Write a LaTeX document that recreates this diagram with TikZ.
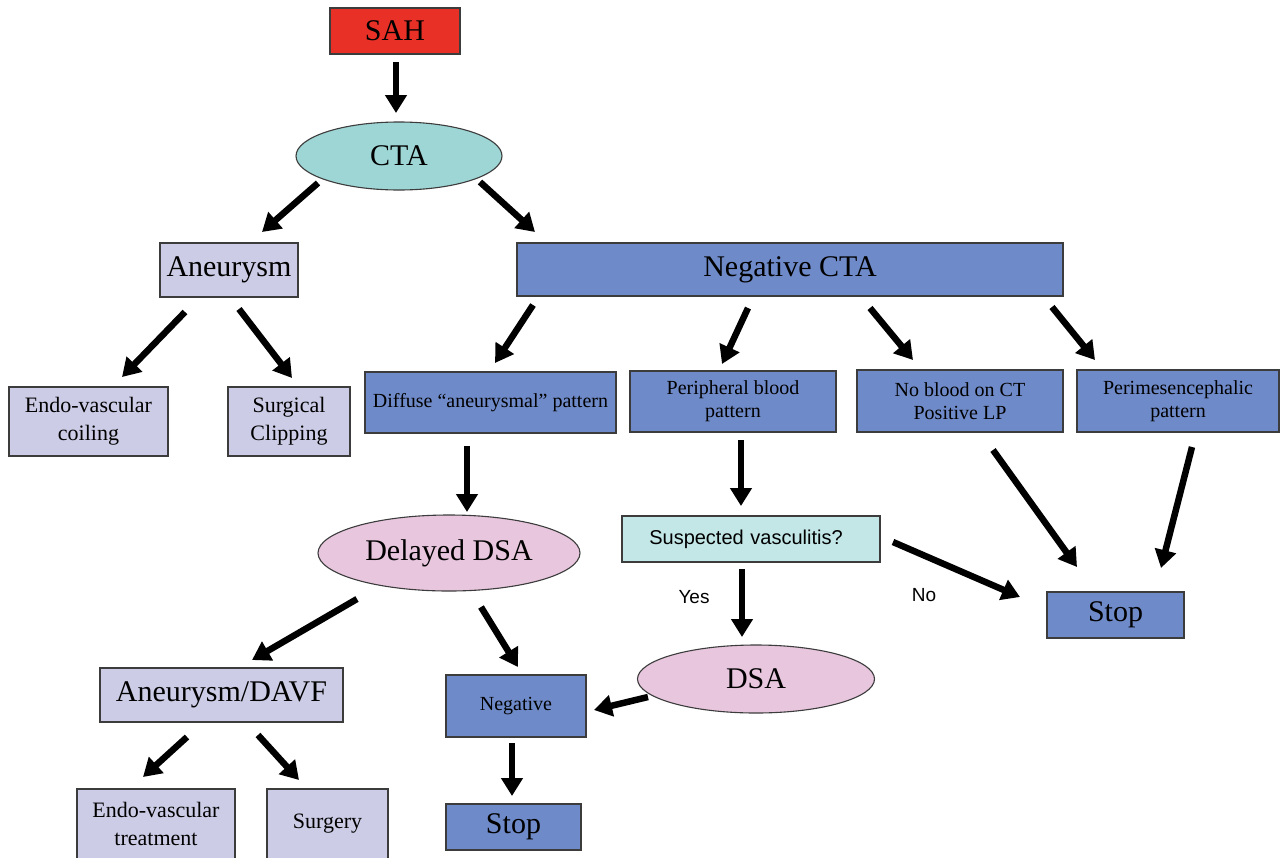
\documentclass[tikz,border=0pt]{standalone}
\usepackage{fontspec}
\setmainfont{Liberation Serif}
\newfontfamily\arialf{Liberation Sans}
\usetikzlibrary{arrows.meta,shapes.geometric,calc}
\definecolor{sahred}{RGB}{232,48,39}
\definecolor{ctacyan}{RGB}{158,213,213}
\definecolor{lav}{RGB}{204,204,230}
\definecolor{blu}{RGB}{111,138,200}
\definecolor{lcyan}{RGB}{195,230,230}
\definecolor{pnk}{RGB}{232,198,222}
\definecolor{edgec}{RGB}{60,60,60}
\begin{document}
\begin{tikzpicture}[x=1pt,y=-1pt,
  box/.style={draw=edgec,line width=1.1pt,inner sep=0pt,align=center},
  oval/.style={ellipse,draw=edgec,line width=1.1pt,inner sep=0pt,align=center},
  arr/.style={line width=6.5pt,-{Triangle[length=18pt,width=21pt]}},
  fbig/.style={font=\fontsize{30}{32}\selectfont},
  fmid/.style={font=\fontsize{22}{28}\selectfont},
  fsmall/.style={font=\fontsize{20}{23}\selectfont},
  fsans/.style={font=\arialf\fontsize{20}{23}\selectfont},
  flab/.style={font=\arialf\fontsize{19}{22}\selectfont}]
\useasboundingbox[fill=white] (0,0) rectangle (1287,857);

% nodes
\node[box,fbig,fill=sahred,minimum width=130pt,minimum height=46pt] (sah) at (395,31) {SAH};
\node[oval,fbig,fill=ctacyan,minimum width=206pt,minimum height=68pt] (cta) at (399,156) {CTA};
\node[box,fbig,fill=lav,minimum width=138pt,minimum height=54pt] (aneu) at (229,270) {Aneurysm};
\node[box,fbig,fill=blu,minimum width=546pt,minimum height=53pt] (negcta) at (790,269.5) {Negative CTA};
\node[box,fmid,fill=lav,minimum width=159pt,minimum height=69pt] (endo1) at (88.5,421.5) {Endo-vascular\\coiling};
\node[box,fmid,fill=lav,minimum width=122pt,minimum height=69pt] (surg1) at (289,421.5) {Surgical\\Clipping};
\node[box,fsmall,fill=blu,minimum width=251pt,minimum height=61pt] (diffuse) at (490.5,402.5) {Diffuse “aneurysmal” pattern};
\node[box,fsmall,fill=blu,minimum width=206pt,minimum height=61pt] (periph) at (733,401.5) {Peripheral blood\\pattern};
\node[box,fsmall,fill=blu,minimum width=206pt,minimum height=62pt] (noblood) at (960,401) {No blood on CT\\Positive LP};
\node[box,fsmall,fill=blu,minimum width=202pt,minimum height=62pt] (perimes) at (1178,401) {Perimesencephalic\\pattern};
\node[box,fsans,fill=lcyan,minimum width=258pt,minimum height=46pt,text width=258pt,align=center] (susp) at (751,539) {\hspace*{-10pt}Suspected vasculitis?};
\node[box,fbig,fill=blu,minimum width=137pt,minimum height=46pt] (stopR) at (1115.5,615) {Stop};
\node[oval,fbig,fill=pnk,minimum width=262pt,minimum height=76pt] (ddsa) at (449,553) {Delayed DSA};
\node[oval,fbig,fill=pnk,minimum width=237pt,minimum height=68pt] (dsa) at (756,679) {DSA};
\node[box,fbig,fill=lav,minimum width=243pt,minimum height=54pt] (anedavf) at (221.5,695) {Aneurysm/DAVF};
\node[box,fsmall,fill=blu,minimum width=140pt,minimum height=62pt] (neg) at (516,706) {Negative};
\node[box,fmid,fill=lav,minimum width=158pt,minimum height=70pt] (endo2) at (156,824) {Endo-vascular\\treatment};
\node[box,fmid,fill=lav,minimum width=121pt,minimum height=70pt] (surgery) at (327.5,824) {Surgery};
\node[box,fbig,fill=blu,minimum width=135pt,minimum height=46pt] (stopB) at (513.5,827) {Stop};

% connectors
\draw[arr] ($(sah)+(1,31)$) -- ($(cta)+(-3,-43)$);
\draw[arr] ($(cta)+(-81,27)$) -- ($(aneu)+(33,-38)$);
\draw[arr] ($(cta)+(81,26)$) -- ($(negcta)+(-255,-37.5)$);
\draw[arr] ($(aneu)+(-44,42)$) -- ($(endo1)+(33.5,-44.5)$);
\draw[arr] ($(aneu)+(10,39)$) -- ($(surg1)+(3,-43.5)$);
\draw[arr] ($(negcta)+(-257,35.5)$) -- ($(diffuse)+(4.5,-39.5)$);
\draw[arr] ($(negcta)+(-42,38.5)$) -- ($(periph)+(-11,-37.5)$);
\draw[arr] ($(negcta)+(80,38.5)$) -- ($(noblood)+(-47,-41)$);
\draw[arr] ($(negcta)+(262,37.5)$) -- ($(perimes)+(-83,-41)$);
\draw[arr] ($(diffuse)+(-23.5,43.5)$) -- ($(ddsa)+(18,-41)$);
\draw[arr] ($(periph)+(8,38.5)$) -- ($(susp)+(-10,-33)$);
\draw[arr] ($(noblood)+(33,49)$) -- ($(stopR)+(-38.5,-48)$);
\draw[arr] ($(perimes)+(14,46)$) -- ($(stopR)+(45.5,-47)$);
\draw[arr] ($(susp)+(142,3)$) -- ($(stopR)+(-95.5,-18)$);
\draw[arr] ($(susp)+(-9,30)$) -- ($(dsa)+(-14,-42)$);
\draw[arr] ($(ddsa)+(-92,46)$) -- ($(anedavf)+(30.5,-35)$);
\draw[arr] ($(ddsa)+(32,54)$) -- ($(neg)+(2,-39)$);
\draw[arr] ($(dsa)+(-108,18)$) -- ($(neg)+(78,4)$);
\draw[arr] ($(anedavf)+(-34.5,42)$) -- ($(endo2)+(-13,-47)$);
\draw[arr] ($(anedavf)+(36.5,40)$) -- ($(surgery)+(-28.5,-44)$);
\draw[arr] ($(neg)+(-4,37)$) -- ($(stopB)+(-1.5,-31)$);

% labels
\node[flab] (yes) at (694,597) {Yes};
\node[flab] (no) at (924,595) {No};
\end{tikzpicture}
\end{document}
